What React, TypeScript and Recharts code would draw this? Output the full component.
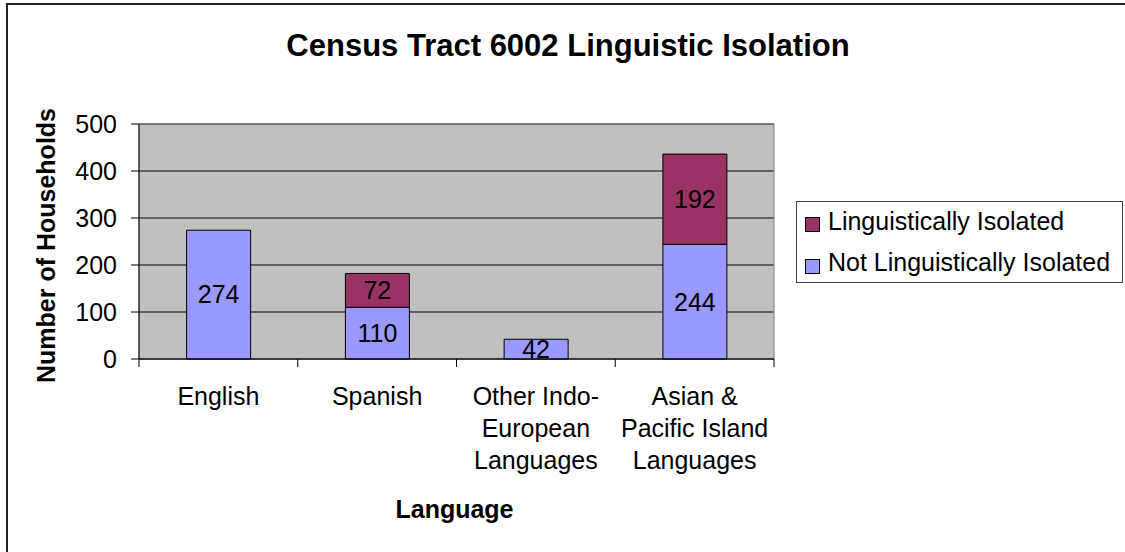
import React from 'react';
import {
  BarChart,
  Bar,
  XAxis,
  YAxis,
  CartesianGrid,
  LabelList,
  Legend,
  ReferenceArea,
  Label,
} from 'recharts';

const categories = [
  'English',
  'Spanish',
  'Other Indo-European Languages',
  'Asian & Pacific Island Languages',
];
const categoryLines = [
  ['English'],
  ['Spanish'],
  ['Other Indo-', 'European', 'Languages'],
  ['Asian &', 'Pacific Island', 'Languages'],
];
const notIsolated = [274, 110, 42, 244];
const isolated = [0, 72, 0, 192];
const yTicks = [0, 100, 200, 300, 400, 500];
const seriesKeys = ['notIsolated', 'isolated'];
const seriesNames = ['Not Linguistically Isolated', 'Linguistically Isolated'];
const seriesColors = ['#9999FF', '#993366'];
const chartTitle = 'Census Tract 6002 Linguistic Isolation';
const xTitle = 'Language';
const yTitle = 'Number of Households';

const data = categories.map((c, i) => ({
  category: c,
  notIsolated: notIsolated[i],
  isolated: isolated[i],
}));

const FONT = "'Liberation Sans', Arial, sans-serif";
const W = 1125;
const H = 552;

const XTick = (props: any) => {
  const { x, y, payload } = props;
  const idx = categories.indexOf(payload.value);
  const half = payload.offset ?? 0;
  const lines = categoryLines[idx] || [String(payload.value)];
  return (
    <g>
      <line x1={x - half} x2={x - half} y1={y} y2={y + 8} stroke="#000" strokeWidth={1} />
      {idx === categories.length - 1 && (
        <line x1={x + half} x2={x + half} y1={y} y2={y + 8} stroke="#000" strokeWidth={1} />
      )}
      <text x={x} y={y + 46} textAnchor="middle" fontSize={25} fill="#000" fontFamily={FONT}>
        {lines.map((l, k) => (
          <tspan key={k} x={x} dy={k === 0 ? 0 : 32}>
            {l}
          </tspan>
        ))}
      </text>
    </g>
  );
};

const YTitle = (props: any) => {
  const vb = props.viewBox || {};
  const cx = vb.x - 4;
  const cy = vb.y + vb.height / 2 + 4;
  return (
    <text
      x={cx}
      y={cy}
      transform={`rotate(-90 ${cx} ${cy})`}
      textAnchor="middle"
      fontSize={25}
      fontWeight="bold"
      fill="#000"
      fontFamily={FONT}
    >
      {yTitle}
    </text>
  );
};

const XTitle = (props: any) => {
  const vb = props.viewBox || {};
  return (
    <text
      x={vb.x + vb.width / 2 - 2}
      y={vb.y + 159}
      textAnchor="middle"
      fontSize={25}
      fontWeight="bold"
      fill="#000"
      fontFamily={FONT}
    >
      {xTitle}
    </text>
  );
};

const LegendBox = () => {
  const order = [1, 0];
  return (
    <svg width={327} height={82} style={{ display: 'block' }}>
      <rect x={0.5} y={0.5} width={326} height={81} fill="#fff" stroke="#404040" />
      {order.map((si, r) => (
        <g key={si}>
          <rect
            x={9.5}
            y={16.5 + r * 42}
            width={14}
            height={14}
            fill={seriesColors[si]}
            stroke="#000"
          />
          <text x={32} y={29 + r * 41} fontSize={25} fill="#000" fontFamily={FONT}>
            {seriesNames[si]}
          </text>
        </g>
      ))}
    </svg>
  );
};

const fmt = (v: any) => (v ? v : '');

export default function App() {
  return (
    <div
      style={{
        position: 'absolute',
        left: 0,
        top: 0,
        width: W,
        height: H,
        overflow: 'hidden',
        background: '#fff',
        fontFamily: FONT,
      }}
    >
      <div
        style={{
          position: 'absolute',
          left: 6,
          top: 3,
          width: W + 100,
          height: H + 100,
          border: '2px solid #222',
        }}
      />
      <div style={{ position: 'absolute', left: 0, top: 0 }}>
        <BarChart
          width={W}
          height={H}
          data={data}
          margin={{ top: 124, right: 351, bottom: 43, left: 59 }}
          barCategoryGap="30%"
        >
          <CartesianGrid vertical={false} stroke="#000" fill="#C0C0C0" />
          <ReferenceArea y1={0} y2={500} fill="none" stroke="#808080" ifOverflow="visible" />
          <XAxis
            dataKey="category"
            height={150}
            interval={0}
            tickSize={0}
            tickMargin={0}
            tickLine={false}
            axisLine={{ stroke: '#000' }}
            tick={XTick}
          >
            <Label content={XTitle} />
          </XAxis>
          <YAxis
            type="number"
            domain={[0, 500]}
            ticks={yTicks}
            interval={0}
            width={80}
            tickSize={8}
            tickMargin={14}
            axisLine={{ stroke: '#000' }}
            tickLine={{ stroke: '#000' }}
            tick={{ fill: '#000', fontSize: 25, fontFamily: FONT }}
          >
            <Label content={YTitle} />
          </YAxis>
          <Legend
            layout="horizontal"
            align="center"
            verticalAlign="middle"
            wrapperStyle={{ left: 796, top: 201, width: 327, height: 82 }}
            content={LegendBox}
          />
          {seriesKeys.map((k, i) => (
            <Bar
              key={k}
              dataKey={k}
              name={seriesNames[i]}
              stackId="a"
              fill={seriesColors[i]}
              stroke="#000"
              strokeWidth={1}
              isAnimationActive={false}
            >
              <LabelList
                dataKey={k}
                position="center"
                fill="#000"
                stroke="none"
                fontSize={25}
                fontFamily={FONT}
                formatter={fmt}
              />
            </Bar>
          ))}
        </BarChart>
      </div>
      <svg
        width={W}
        height={H}
        style={{ position: 'absolute', left: 0, top: 0, pointerEvents: 'none' }}
      >
        <text
          x={568}
          y={56}
          textAnchor="middle"
          fontSize={31}
          fontWeight="bold"
          fill="#000"
          fontFamily={FONT}
        >
          {chartTitle}
        </text>
      </svg>
    </div>
  );
}
